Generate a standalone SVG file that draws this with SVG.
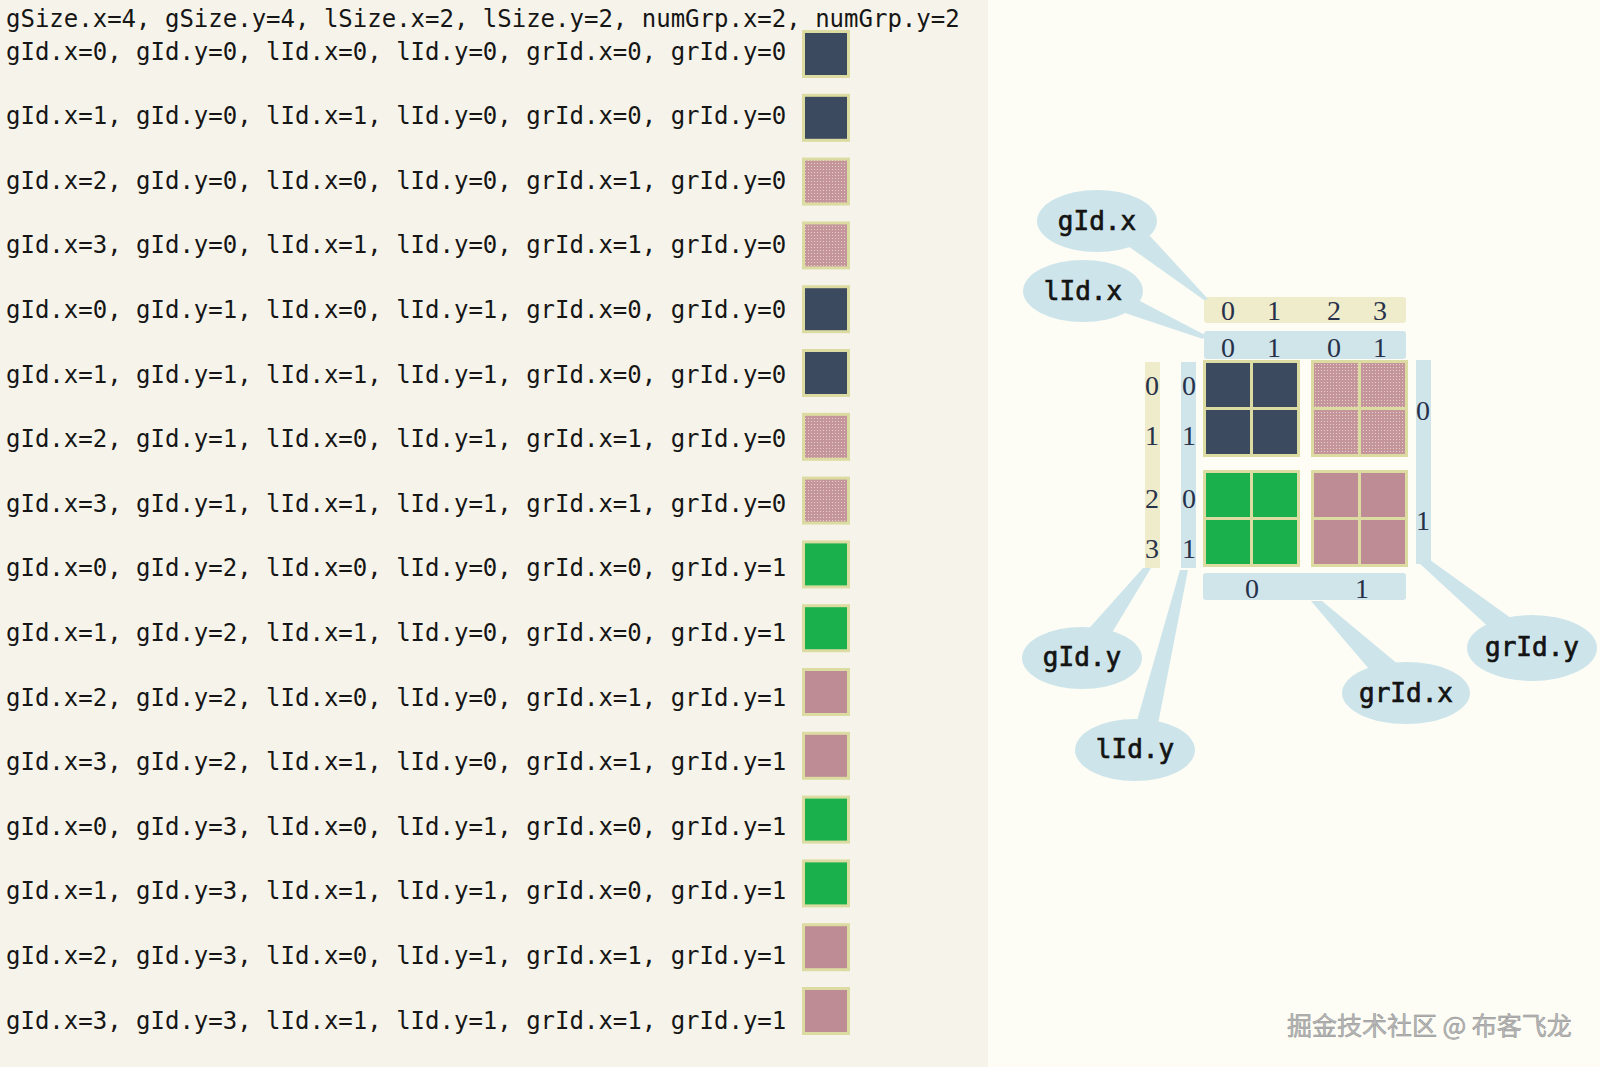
<svg xmlns="http://www.w3.org/2000/svg" width="1600" height="1067" viewBox="0 0 1600 1067">
<style>
.row{font-family:"DejaVu Sans Mono","Liberation Mono",monospace;font-size:24px;fill:#161616}
.sq{stroke:#dcdca2;stroke-width:3}
.dark{fill:#3b4a5f}
.pinkd{fill:url(#dither)}
.pink{fill:#bd8c95}
.green{fill:#1ab14d}
.blk{fill:#dcdca2}
.ys{fill:#eeecca}
.bs{fill:#cfe5ea}
.num{font-family:"Liberation Serif","DejaVu Serif",serif;font-size:28px;fill:#27324a;text-anchor:middle}
.call{fill:#cde5ea}
.ctext{font-family:"DejaVu Sans Mono","Liberation Mono",monospace;font-size:26px;fill:#141414;stroke:#141414;stroke-width:0.7;text-anchor:middle}
.wm{font-family:"Noto Sans CJK SC","Liberation Sans",sans-serif;font-size:25px;fill:#b8b8b8;stroke:#909090;stroke-width:0.5}
</style>
<defs>
<pattern id="dither" width="3" height="3" patternUnits="userSpaceOnUse">
<rect width="3" height="3" fill="#c4969c"/>
<rect x="1" y="1" width="1" height="1" fill="#e6cfc6"/>
</pattern>
</defs>
<rect x="0" y="0" width="1600" height="1067" fill="#fdfdf6"/>
<rect x="0" y="0" width="988" height="1067" fill="#f6f4ea"/>

<g id="list">
<text class="row" x="6" y="27">gSize.x=4, gSize.y=4, lSize.x=2, lSize.y=2, numGrp.x=2, numGrp.y=2</text>
<g id="row0"><text class="row" x="6" y="59.5">gId.x=0, gId.y=0, lId.x=0, lId.y=0, grId.x=0, grId.y=0</text><rect class="sq dark" x="803.5" y="31.5" width="45" height="45"/></g>
<g id="row1"><text class="row" x="6" y="124.1">gId.x=1, gId.y=0, lId.x=1, lId.y=0, grId.x=0, grId.y=0</text><rect class="sq dark" x="803.5" y="95.3" width="45" height="45"/></g>
<g id="row2"><text class="row" x="6" y="188.7">gId.x=2, gId.y=0, lId.x=0, lId.y=0, grId.x=1, grId.y=0</text><rect class="sq pinkd" x="803.5" y="159.1" width="45" height="45"/></g>
<g id="row3"><text class="row" x="6" y="253.3">gId.x=3, gId.y=0, lId.x=1, lId.y=0, grId.x=1, grId.y=0</text><rect class="sq pinkd" x="803.5" y="222.9" width="45" height="45"/></g>
<g id="row4"><text class="row" x="6" y="317.9">gId.x=0, gId.y=1, lId.x=0, lId.y=1, grId.x=0, grId.y=0</text><rect class="sq dark" x="803.5" y="286.7" width="45" height="45"/></g>
<g id="row5"><text class="row" x="6" y="382.5">gId.x=1, gId.y=1, lId.x=1, lId.y=1, grId.x=0, grId.y=0</text><rect class="sq dark" x="803.5" y="350.5" width="45" height="45"/></g>
<g id="row6"><text class="row" x="6" y="447.1">gId.x=2, gId.y=1, lId.x=0, lId.y=1, grId.x=1, grId.y=0</text><rect class="sq pinkd" x="803.5" y="414.3" width="45" height="45"/></g>
<g id="row7"><text class="row" x="6" y="511.7">gId.x=3, gId.y=1, lId.x=1, lId.y=1, grId.x=1, grId.y=0</text><rect class="sq pinkd" x="803.5" y="478.1" width="45" height="45"/></g>
<g id="row8"><text class="row" x="6" y="576.3">gId.x=0, gId.y=2, lId.x=0, lId.y=0, grId.x=0, grId.y=1</text><rect class="sq green" x="803.5" y="541.9" width="45" height="45"/></g>
<g id="row9"><text class="row" x="6" y="640.9">gId.x=1, gId.y=2, lId.x=1, lId.y=0, grId.x=0, grId.y=1</text><rect class="sq green" x="803.5" y="605.7" width="45" height="45"/></g>
<g id="row10"><text class="row" x="6" y="705.5">gId.x=2, gId.y=2, lId.x=0, lId.y=0, grId.x=1, grId.y=1</text><rect class="sq pink" x="803.5" y="669.5" width="45" height="45"/></g>
<g id="row11"><text class="row" x="6" y="770.1">gId.x=3, gId.y=2, lId.x=1, lId.y=0, grId.x=1, grId.y=1</text><rect class="sq pink" x="803.5" y="733.3" width="45" height="45"/></g>
<g id="row12"><text class="row" x="6" y="834.7">gId.x=0, gId.y=3, lId.x=0, lId.y=1, grId.x=0, grId.y=1</text><rect class="sq green" x="803.5" y="797.1" width="45" height="45"/></g>
<g id="row13"><text class="row" x="6" y="899.3">gId.x=1, gId.y=3, lId.x=1, lId.y=1, grId.x=0, grId.y=1</text><rect class="sq green" x="803.5" y="860.9" width="45" height="45"/></g>
<g id="row14"><text class="row" x="6" y="963.9">gId.x=2, gId.y=3, lId.x=0, lId.y=1, grId.x=1, grId.y=1</text><rect class="sq pink" x="803.5" y="924.7" width="45" height="45"/></g>
<g id="row15"><text class="row" x="6" y="1028.5">gId.x=3, gId.y=3, lId.x=1, lId.y=1, grId.x=1, grId.y=1</text><rect class="sq pink" x="803.5" y="988.5" width="45" height="45"/></g>
</g>

<g id="axes">
<rect class="ys" x="1204" y="297" width="202" height="26" rx="3"/>
<text class="num" x="1228" y="320">0</text><text class="num" x="1274" y="320">1</text><text class="num" x="1334" y="320">2</text><text class="num" x="1380" y="320">3</text>
<rect class="bs" x="1204" y="331" width="202" height="28" rx="3"/>
<text class="num" x="1228" y="357">0</text><text class="num" x="1274" y="357">1</text><text class="num" x="1334" y="357">0</text><text class="num" x="1380" y="357">1</text>
<rect class="ys" x="1145" y="362" width="15" height="206"/>
<text class="num" x="1152" y="395">0</text><text class="num" x="1152" y="445">1</text><text class="num" x="1152" y="508">2</text><text class="num" x="1152" y="558">3</text>
<rect class="bs" x="1181" y="362" width="15" height="206"/>
<text class="num" x="1189" y="395">0</text><text class="num" x="1189" y="445">1</text><text class="num" x="1189" y="508">0</text><text class="num" x="1189" y="558">1</text>
<rect class="bs" x="1416" y="360" width="15" height="204"/>
<text class="num" x="1423" y="420">0</text><text class="num" x="1423" y="530">1</text>
<rect class="bs" x="1203" y="573" width="203" height="27" rx="3"/>
<text class="num" x="1252" y="598">0</text><text class="num" x="1362" y="598">1</text>
</g>

<g id="grid">
<g id="block00"><rect class="blk" x="1203" y="360" width="97" height="97"/><rect class="dark" x="1206" y="363" width="44" height="44"/><rect class="dark" x="1253" y="363" width="44" height="44"/><rect class="dark" x="1206" y="410" width="44" height="44"/><rect class="dark" x="1253" y="410" width="44" height="44"/></g>
<g id="block10"><rect class="blk" x="1311" y="360" width="97" height="97"/><rect class="pinkd" x="1314" y="363" width="44" height="44"/><rect class="pinkd" x="1361" y="363" width="44" height="44"/><rect class="pinkd" x="1314" y="410" width="44" height="44"/><rect class="pinkd" x="1361" y="410" width="44" height="44"/></g>
<g id="block01"><rect class="blk" x="1203" y="470" width="97" height="97"/><rect class="green" x="1206" y="473" width="44" height="44"/><rect class="green" x="1253" y="473" width="44" height="44"/><rect class="green" x="1206" y="520" width="44" height="44"/><rect class="green" x="1253" y="520" width="44" height="44"/></g>
<g id="block11"><rect class="blk" x="1311" y="470" width="97" height="97"/><rect class="pink" x="1314" y="473" width="44" height="44"/><rect class="pink" x="1361" y="473" width="44" height="44"/><rect class="pink" x="1314" y="520" width="44" height="44"/><rect class="pink" x="1361" y="520" width="44" height="44"/></g>
</g>

<g id="connectors">
<polygon class="call" points="1128,246 1150,236 1208,299 1204,300"/>
<polygon class="call" points="1122,312 1138,300 1205,335 1203,339"/>
<polygon class="call" points="1143,568 1151,568 1110,636 1084,634"/>
<polygon class="call" points="1180,570 1188,570 1158,724 1136,724"/>
<polygon class="call" points="1311,601 1322,601 1405,670 1375,676"/>
<polygon class="call" points="1418,562 1430,560 1522,626 1494,632"/>
</g>

<g id="callout-gIdx"><ellipse class="call" cx="1097" cy="221" rx="60" ry="31"/><text class="ctext" x="1097" y="230">gId.x</text></g>
<g id="callout-lIdx"><ellipse class="call" cx="1083" cy="291" rx="60" ry="31"/><text class="ctext" x="1083" y="300">lId.x</text></g>
<g id="callout-gIdy"><ellipse class="call" cx="1082" cy="658" rx="60" ry="31"/><text class="ctext" x="1082" y="666">gId.y</text></g>
<g id="callout-lIdy"><ellipse class="call" cx="1135" cy="750" rx="60" ry="31"/><text class="ctext" x="1135" y="758">lId.y</text></g>
<g id="callout-grIdx"><ellipse class="call" cx="1406" cy="693" rx="64" ry="31"/><text class="ctext" x="1406" y="702">grId.x</text></g>
<g id="callout-grIdy"><ellipse class="call" cx="1532" cy="648" rx="65" ry="33"/><text class="ctext" x="1532" y="656">grId.y</text></g>

<text class="wm" x="1287" y="1035">掘金技术社区 @ 布客飞龙</text>
</svg>
